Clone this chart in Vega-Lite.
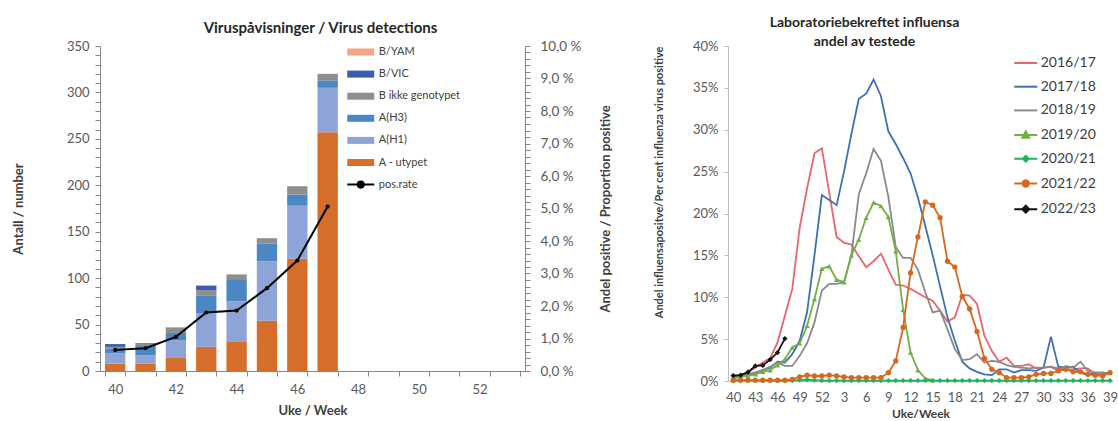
{
  "$schema": "https://vega.github.io/schema/vega-lite/v6.json",
  "padding": {"left": 12, "top": 16, "right": 2, "bottom": 0},
  "spacing": 40,
  "config": {
    "font": "Lato",
    "view": {"stroke": null},
    "axis": {
      "grid": false,
      "labelColor": "#595959",
      "labelFontSize": 13,
      "titleColor": "#404040",
      "titleFontSize": 13,
      "titleFontWeight": "bold",
      "domainColor": "#868686",
      "tickColor": "#868686"
    },
    "title": {"color": "#262626", "fontWeight": "bold"}
  },
  "resolve": {"scale": {"color": "independent"}, "legend": {"color": "independent"}},
  "hconcat": [
    {
      "title": {"text": "Viruspåvisninger / Virus detections", "fontSize": 15, "frame": "group", "anchor": "middle", "dx": 8, "offset": 3},
      "width": 425,
      "height": 325,
      "layer": [
        {
          "data": {
            "values": [
              {"week": 40, "type": "A - utypet", "count": 8},
              {"week": 40, "type": "A(H1)", "count": 11},
              {"week": 40, "type": "A(H3)", "count": 5},
              {"week": 40, "type": "B ikke genotypet", "count": 2},
              {"week": 40, "type": "B/VIC", "count": 3},
              {"week": 41, "type": "A - utypet", "count": 8},
              {"week": 41, "type": "A(H1)", "count": 9},
              {"week": 41, "type": "A(H3)", "count": 10},
              {"week": 41, "type": "B ikke genotypet", "count": 2},
              {"week": 41, "type": "B/VIC", "count": 1},
              {"week": 42, "type": "A - utypet", "count": 14},
              {"week": 42, "type": "A(H1)", "count": 19},
              {"week": 42, "type": "A(H3)", "count": 8},
              {"week": 42, "type": "B ikke genotypet", "count": 6},
              {"week": 43, "type": "A - utypet", "count": 26},
              {"week": 43, "type": "A(H1)", "count": 36},
              {"week": 43, "type": "A(H3)", "count": 19},
              {"week": 43, "type": "B ikke genotypet", "count": 6},
              {"week": 43, "type": "B/VIC", "count": 5},
              {"week": 44, "type": "A - utypet", "count": 32},
              {"week": 44, "type": "A(H1)", "count": 43},
              {"week": 44, "type": "A(H3)", "count": 23},
              {"week": 44, "type": "B ikke genotypet", "count": 6},
              {"week": 45, "type": "A - utypet", "count": 54},
              {"week": 45, "type": "A(H1)", "count": 64},
              {"week": 45, "type": "A(H3)", "count": 19},
              {"week": 45, "type": "B ikke genotypet", "count": 6},
              {"week": 46, "type": "A - utypet", "count": 121},
              {"week": 46, "type": "A(H1)", "count": 57},
              {"week": 46, "type": "A(H3)", "count": 12},
              {"week": 46, "type": "B ikke genotypet", "count": 9},
              {"week": 47, "type": "A - utypet", "count": 257},
              {"week": 47, "type": "A(H1)", "count": 48},
              {"week": 47, "type": "A(H3)", "count": 8},
              {"week": 47, "type": "B ikke genotypet", "count": 7}
            ]
          },
          "transform": [
            {"calculate": "indexof(['A - utypet', 'A(H1)', 'A(H3)', 'B ikke genotypet', 'B/VIC', 'B/YAM'], datum.type)", "as": "stackOrder"}
          ],
          "mark": {"type": "bar"},
          "encoding": {
            "x": {
              "field": "week",
              "type": "ordinal",
              "scale": {"domain": [40, 41, 42, 43, 44, 45, 46, 47, 48, 49, 50, 51, 52, 53], "paddingInner": 0.33, "paddingOuter": 0.165},
              "axis": {
                "title": "Uke / Week",
                "labelAngle": 0,
                "labelExpr": "datum.value % 2 == 0 ? datum.label : ''",
                "tickBand": "extent",
                "tickSize": 5,
                "labelPadding": 7,
                "titlePadding": 8
              }
            },
            "y": {
              "field": "count",
              "type": "quantitative",
              "stack": "zero",
              "scale": {"domain": [0, 350], "nice": false},
              "axis": {
                "title": "Antall / number",
                "values": [0, 10, 20, 30, 40, 50, 60, 70, 80, 90, 100, 110, 120, 130, 140, 150, 160, 170, 180, 190, 200, 210, 220, 230, 240, 250, 260, 270, 280, 290, 300, 310, 320, 330, 340, 350],
                "labelExpr": "datum.value % 50 == 0 ? datum.label : ''",
                "tickSize": 5,
                "labelPadding": 6,
                "titlePadding": 41
              }
            },
            "color": {
              "field": "type",
              "type": "nominal",
              "scale": {
                "domain": ["B/YAM", "B/VIC", "B ikke genotypet", "A(H3)", "A(H1)", "A - utypet", "pos.rate"],
                "range": ["#F4A582", "#3A5DAE", "#8E8E8E", "#4A87C3", "#8EA4D6", "#D46E2A", "#000000"]
              },
              "legend": {
                "orient": "none",
                "legendX": 252.75,
                "legendY": -2,
                "title": null,
                "padding": 0,
                "symbolType": "M-2,-0.52H2V0.52H-2Z",
                "symbolSize": 182,
                "symbolStrokeWidth": 0,
                "labelFontSize": 11,
                "labelColor": "#404040",
                "labelOffset": 10,
                "rowPadding": 6.1,
                "encode": {
                  "symbols": {
                    "update": {
                      "shape": {"signal": "datum.value === 'pos.rate' ? 'M-2,0H2M-0.45,0A0.45,0.45 0 1,1 0.45,0A0.45,0.45 0 1,1 -0.45,0' : 'M-2,-0.52H2V0.52H-2Z'"},
                      "stroke": {"signal": "datum.value === 'pos.rate' ? '#000000' : 'transparent'"},
                      "strokeWidth": {"value": 2}
                    }
                  }
                }
              }
            },
            "order": {"field": "stackOrder", "type": "quantitative", "sort": "ascending"}
          }
        },
        {
          "data": {
            "values": [
              {"week": 40, "rate": 0.65},
              {"week": 41, "rate": 0.7},
              {"week": 42, "rate": 1.05},
              {"week": 43, "rate": 1.8},
              {"week": 44, "rate": 1.86},
              {"week": 45, "rate": 2.55},
              {"week": 46, "rate": 3.4},
              {"week": 47, "rate": 5.06}
            ]
          },
          "mark": {"type": "line", "color": "#000000", "strokeWidth": 2, "point": {"filled": true, "size": 18, "color": "#000000"}},
          "encoding": {
            "x": {"field": "week", "type": "ordinal"},
            "y": {
              "field": "rate",
              "type": "quantitative",
              "scale": {"domain": [0, 10], "nice": false},
              "axis": {
                "orient": "right",
                "title": "Andel positive / Proportion positive",
                "titleAngle": 270,
                "values": [0, 0.2, 0.4, 0.6, 0.8, 1, 1.2, 1.4, 1.6, 1.8, 2, 2.2, 2.4, 2.6, 2.8, 3, 3.2, 3.4, 3.6, 3.8, 4, 4.2, 4.4, 4.6, 4.8, 5, 5.2, 5.4, 5.6, 5.8, 6, 6.2, 6.4, 6.6, 6.8, 7, 7.2, 7.4, 7.6, 7.8, 8, 8.2, 8.4, 8.6, 8.8, 9, 9.2, 9.4, 9.6, 9.8, 10],
                "labelExpr": "abs(datum.value - round(datum.value)) < 0.001 ? replace(format(datum.value, '.1f'), '.', ',') + ' %' : ''",
                "labelFontSize": 13.5,
                "tickSize": 5,
                "labelPadding": 10,
                "titlePadding": 32
              }
            }
          }
        }
      ],
      "resolve": {"scale": {"y": "independent"}}
    },
    {
      "title": {"text": ["Laboratoriebekreftet influensa", "andel av testede"], "fontSize": 14, "lineHeight": 19, "frame": "group", "anchor": "middle", "dx": -56, "offset": -9},
      "width": 385,
      "height": 335,
      "data": {
        "values": [
          {"week": 40, "2016/17": 0.5, "2017/18": 0.5, "2018/19": 0.4, "2019/20": 0.3, "2020/21": 0.05, "2021/22": 0.1, "2022/23": 0.65},
          {"week": 41, "2016/17": 0.7, "2017/18": 0.6, "2018/19": 0.5, "2019/20": 0.5, "2020/21": 0.05, "2021/22": 0.1, "2022/23": 0.7},
          {"week": 42, "2016/17": 1.0, "2017/18": 0.8, "2018/19": 0.7, "2019/20": 0.6, "2020/21": 0.05, "2021/22": 0.1, "2022/23": 1.05},
          {"week": 43, "2016/17": 1.6, "2017/18": 1.0, "2018/19": 1.0, "2019/20": 0.8, "2020/21": 0.05, "2021/22": 0.1, "2022/23": 1.8},
          {"week": 44, "2016/17": 2.2, "2017/18": 1.3, "2018/19": 1.3, "2019/20": 1.1, "2020/21": 0.05, "2021/22": 0.1, "2022/23": 1.86},
          {"week": 45, "2016/17": 2.7, "2017/18": 1.6, "2018/19": 1.7, "2019/20": 1.3, "2020/21": 0.05, "2021/22": 0.1, "2022/23": 2.55},
          {"week": 46, "2016/17": 4.6, "2017/18": 2.3, "2018/19": 2.2, "2019/20": 1.9, "2020/21": 0.05, "2021/22": 0.1, "2022/23": 3.4},
          {"week": 47, "2016/17": 7.8, "2017/18": 2.2, "2018/19": 1.8, "2019/20": 2.6, "2020/21": 0.05, "2021/22": 0.1, "2022/23": 5.06},
          {"week": 48, "2016/17": 11.0, "2017/18": 3.2, "2018/19": 1.8, "2019/20": 4.0, "2020/21": 0.05, "2021/22": 0.2},
          {"week": 49, "2016/17": 18.3, "2017/18": 4.8, "2018/19": 3.0, "2019/20": 4.5, "2020/21": 0.1, "2021/22": 0.5},
          {"week": 50, "2016/17": 23.0, "2017/18": 8.2, "2018/19": 4.5, "2019/20": 6.6, "2020/21": 0.15, "2021/22": 0.7},
          {"week": 51, "2016/17": 27.2, "2017/18": 15.0, "2018/19": 7.0, "2019/20": 9.8, "2020/21": 0.1, "2021/22": 0.6},
          {"week": 52, "2016/17": 27.8, "2017/18": 22.2, "2018/19": 10.8, "2019/20": 13.4, "2020/21": 0.05, "2021/22": 0.6},
          {"week": 1, "2016/17": 22.5, "2017/18": 21.6, "2018/19": 11.6, "2019/20": 13.7, "2020/21": 0.05, "2021/22": 0.7},
          {"week": 2, "2016/17": 17.2, "2017/18": 21.0, "2018/19": 11.6, "2019/20": 12.1, "2020/21": 0.05, "2021/22": 0.6},
          {"week": 3, "2016/17": 16.5, "2017/18": 25.0, "2018/19": 11.8, "2019/20": 11.8, "2020/21": 0.05, "2021/22": 0.5},
          {"week": 4, "2016/17": 16.3, "2017/18": 29.5, "2018/19": 15.0, "2019/20": 15.0, "2020/21": 0.05, "2021/22": 0.4},
          {"week": 5, "2016/17": 14.9, "2017/18": 33.7, "2018/19": 22.3, "2019/20": 16.9, "2020/21": 0.05, "2021/22": 0.4},
          {"week": 6, "2016/17": 13.6, "2017/18": 34.3, "2018/19": 24.8, "2019/20": 19.5, "2020/21": 0.05, "2021/22": 0.4},
          {"week": 7, "2016/17": 14.3, "2017/18": 36.0, "2018/19": 27.7, "2019/20": 21.3, "2020/21": 0.05, "2021/22": 0.4},
          {"week": 8, "2016/17": 15.2, "2017/18": 34.0, "2018/19": 26.3, "2019/20": 20.9, "2020/21": 0.05, "2021/22": 0.4},
          {"week": 9, "2016/17": 13.3, "2017/18": 29.8, "2018/19": 22.0, "2019/20": 19.6, "2020/21": 0.05, "2021/22": 1.0},
          {"week": 10, "2016/17": 11.5, "2017/18": 28.3, "2018/19": 16.0, "2019/20": 15.5, "2020/21": 0.05, "2021/22": 2.4},
          {"week": 11, "2016/17": 11.4, "2017/18": 26.6, "2018/19": 14.7, "2019/20": 8.5, "2020/21": 0.05, "2021/22": 6.4},
          {"week": 12, "2016/17": 11.0, "2017/18": 24.8, "2018/19": 14.7, "2019/20": 3.4, "2020/21": 0.05, "2021/22": 12.9},
          {"week": 13, "2016/17": 10.5, "2017/18": 21.9, "2018/19": 13.3, "2019/20": 1.3, "2020/21": 0.05, "2021/22": 17.2},
          {"week": 14, "2016/17": 10.0, "2017/18": 18.5, "2018/19": 10.6, "2019/20": 0.3, "2020/21": 0.05, "2021/22": 21.4},
          {"week": 15, "2016/17": 9.6, "2017/18": 15.0, "2018/19": 8.2, "2019/20": 0.1, "2020/21": 0.05, "2021/22": 21.0},
          {"week": 16, "2016/17": 8.4, "2017/18": 11.3, "2018/19": 8.4, "2020/21": 0.05, "2021/22": 19.5},
          {"week": 17, "2016/17": 7.1, "2017/18": 7.6, "2018/19": 6.2, "2020/21": 0.05, "2021/22": 14.3},
          {"week": 18, "2016/17": 7.6, "2017/18": 4.8, "2018/19": 3.8, "2020/21": 0.05, "2021/22": 13.6},
          {"week": 19, "2016/17": 10.3, "2017/18": 2.3, "2018/19": 2.5, "2020/21": 0.05, "2021/22": 10.1},
          {"week": 20, "2016/17": 10.2, "2017/18": 1.5, "2018/19": 2.6, "2020/21": 0.05, "2021/22": 8.6},
          {"week": 21, "2016/17": 9.2, "2017/18": 1.1, "2018/19": 3.2, "2020/21": 0.05, "2021/22": 5.9},
          {"week": 22, "2016/17": 5.4, "2017/18": 0.8, "2018/19": 2.2, "2020/21": 0.05, "2021/22": 2.7},
          {"week": 23, "2016/17": 3.6, "2017/18": 0.7, "2018/19": 2.4, "2020/21": 0.05, "2021/22": 1.4},
          {"week": 24, "2016/17": 2.3, "2017/18": 1.4, "2018/19": 2.3, "2020/21": 0.05, "2021/22": 1.0},
          {"week": 25, "2016/17": 2.8, "2017/18": 1.4, "2018/19": 1.9, "2020/21": 0.05, "2021/22": 0.4},
          {"week": 26, "2016/17": 1.8, "2017/18": 1.0, "2018/19": 1.7, "2020/21": 0.05, "2021/22": 0.4},
          {"week": 27, "2016/17": 1.8, "2017/18": 1.3, "2018/19": 1.6, "2020/21": 0.05, "2021/22": 0.4},
          {"week": 28, "2016/17": 2.0, "2017/18": 1.3, "2018/19": 1.5, "2020/21": 0.05, "2021/22": 0.5},
          {"week": 29, "2016/17": 1.5, "2017/18": 1.2, "2018/19": 1.6, "2020/21": 0.05, "2021/22": 0.8},
          {"week": 30, "2016/17": 1.6, "2017/18": 1.6, "2018/19": 1.6, "2020/21": 0.05, "2021/22": 0.9},
          {"week": 31, "2016/17": 1.7, "2017/18": 5.3, "2018/19": 1.7, "2020/21": 0.05, "2021/22": 0.9},
          {"week": 32, "2016/17": 1.5, "2017/18": 1.7, "2018/19": 1.2, "2020/21": 0.05, "2021/22": 1.2},
          {"week": 33, "2016/17": 1.4, "2017/18": 1.6, "2018/19": 1.8, "2020/21": 0.05, "2021/22": 1.4},
          {"week": 34, "2016/17": 1.4, "2017/18": 1.7, "2018/19": 1.6, "2020/21": 0.05, "2021/22": 1.1},
          {"week": 35, "2016/17": 1.5, "2017/18": 1.0, "2018/19": 2.3, "2020/21": 0.05, "2021/22": 1.1},
          {"week": 36, "2016/17": 1.5, "2017/18": 0.7, "2018/19": 1.2, "2020/21": 0.05, "2021/22": 0.8},
          {"week": 37, "2016/17": 0.8, "2017/18": 1.0, "2018/19": 1.0, "2020/21": 0.05, "2021/22": 0.7},
          {"week": 38, "2016/17": 0.8, "2017/18": 1.0, "2018/19": 1.0, "2020/21": 0.05, "2021/22": 0.6},
          {"week": 39, "2016/17": 0.9, "2017/18": 0.9, "2018/19": 0.9, "2020/21": 0.05, "2021/22": 1.0}
        ]
      },
      "transform": [
        {"fold": ["2016/17", "2017/18", "2018/19", "2019/20", "2020/21", "2021/22", "2022/23"], "as": ["season", "pct"]},
        {"filter": "isValid(datum.pct)"},
        {"calculate": "datum.week >= 40 ? datum.week - 40 : datum.week + 12", "as": "idx"}
      ],
      "encoding": {
        "x": {
          "field": "idx",
          "type": "quantitative",
          "scale": {"domain": [-0.7, 51.4], "nice": false, "zero": false},
          "axis": {
            "title": "Uke/Week",
            "titleFontSize": 12,
            "values": [0, 3, 6, 9, 12, 15, 18, 21, 24, 27, 30, 33, 36, 39, 42, 45, 48, 51],
            "labelExpr": "(datum.value + 39) % 52 + 1",
            "labelFlush": false,
            "ticks": false,
            "domainColor": "#BFBFBF",
            "labelPadding": 10,
            "titlePadding": 4
          }
        },
        "y": {
          "field": "pct",
          "type": "quantitative",
          "scale": {"domain": [0, 40], "nice": false},
          "axis": {
            "title": "Andel influensapositve/Per cent influenza virus positive",
            "titleFontSize": 11,
            "titleAnchor": "end",
            "titlePadding": 28,
            "values": [0, 5, 10, 15, 20, 25, 30, 35, 40],
            "labelExpr": "datum.value + '%'",
            "tickSize": 4,
            "labelPadding": 6,
            "domainColor": "#BFBFBF",
            "tickColor": "#BFBFBF"
          }
        },
        "color": {
          "field": "season",
          "type": "nominal",
          "scale": {
            "domain": ["2016/17", "2017/18", "2018/19", "2019/20", "2020/21", "2021/22", "2022/23"],
            "range": ["#E8656B", "#3E6FB5", "#8A8A8A", "#72B043", "#1DB45A", "#D6671F", "#111111"]
          },
          "legend": {
            "orient": "none",
            "legendX": 290.75,
            "legendY": 10,
            "title": null,
            "padding": 0,
            "symbolSize": 132,
            "symbolStrokeWidth": 2,
            "labelFontSize": 14,
            "labelColor": "#404040",
            "labelOffset": 8,
            "rowPadding": 9.7,
            "encode": {
              "symbols": {
                "update": {
                  "shape": {"signal": "datum.value === '2019/20' ? 'M-2,0H2M0,-0.65L0.6,0.45H-0.6Z' : datum.value === '2020/21' ? 'M-2,0H2M0,-0.5L0.5,0L0,0.5L-0.5,0Z' : datum.value === '2021/22' ? 'M-2,0H2M-0.55,0A0.55,0.55 0 1,1 0.55,0A0.55,0.55 0 1,1 -0.55,0' : datum.value === '2022/23' ? 'M-2,0H2M0,-0.6L0.6,0L0,0.6L-0.6,0Z' : 'M-2,0H2'"},
                  "stroke": {"signal": "{'2016/17': '#E8656B', '2017/18': '#3E6FB5', '2018/19': '#8A8A8A', '2019/20': '#72B043', '2020/21': '#1DB45A', '2021/22': '#D6671F', '2022/23': '#111111'}[datum.value]"},
                  "fill": {"signal": "{'2016/17': '#E8656B', '2017/18': '#3E6FB5', '2018/19': '#8A8A8A', '2019/20': '#72B043', '2020/21': '#1DB45A', '2021/22': '#D6671F', '2022/23': '#111111'}[datum.value]"},
                  "strokeWidth": {"value": 2}
                }
              }
            }
          }
        }
      },
      "layer": [
        {"mark": {"type": "line", "strokeWidth": 1.8}},
        {
          "transform": [{"filter": "indexof(['2019/20', '2020/21', '2021/22', '2022/23'], datum.season) >= 0"}],
          "mark": {"type": "point", "filled": true, "opacity": 1, "size": 28},
          "encoding": {
            "shape": {
              "field": "season",
              "type": "nominal",
              "scale": {"domain": ["2019/20", "2020/21", "2021/22", "2022/23"], "range": ["triangle-up", "diamond", "circle", "diamond"]},
              "legend": null
            }
          }
        }
      ]
    }
  ]
}
